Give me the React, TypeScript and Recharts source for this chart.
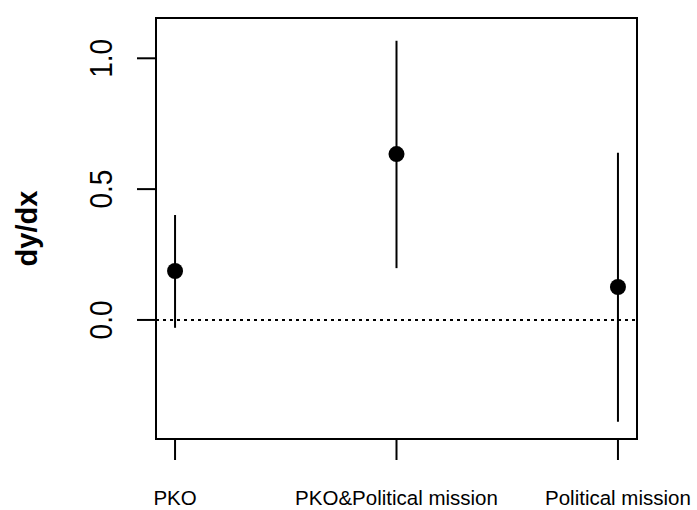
import { ComposedChart, ErrorBar, ReferenceArea, ReferenceLine, Scatter, XAxis, YAxis } from "recharts";

const categories = ["PKO", "PKO&Political mission", "Political mission"];
const estimates = [0.187, 0.634, 0.126];
const lower = [-0.03, 0.198, -0.389];
const upper = [0.401, 1.067, 0.639];
const yTicks = [0, 0.5, 1.0];

const X_DOMAIN: [number, number] = [0.914, 3.086];
const Y_DOMAIN: [number, number] = [-0.455, 1.154];

const data = categories.map((name, i) => ({
  x: i + 1,
  name,
  y: estimates[i],
  err: [estimates[i] - lower[i], upper[i] - estimates[i]],
}));

function YTick(props: any) {
  const { x, y, payload } = props;
  return (
    <text
      transform={`translate(${x},${y}) rotate(-90) scale(1,1.1)`}
      textAnchor="middle"
      fontSize={28}
      fill="#000"
    >
      {payload.value.toFixed(1)}
    </text>
  );
}

function YLabel(props: any) {
  const vb = props.viewBox;
  const cy = vb.y + vb.height / 2;
  return (
    <text
      transform={`translate(37,${cy}) rotate(-90)`}
      textAnchor="middle"
      fontSize={29}
      fontWeight="bold"
      fill="#000"
    >
      dy/dx
    </text>
  );
}

const dot = (p: any) => <circle cx={p.cx} cy={p.cy} r={8} fill="#000" />;

export default function App() {
  return (
    <div
      style={{
        position: "absolute",
        left: 0,
        top: 0,
        background: "#fff",
        fontFamily: "'Liberation Sans', Arial, sans-serif",
      }}
    >
      <ComposedChart width={697} height={510} data={data} margin={{ top: 18, right: 60, bottom: 41, left: 0 }}>
        <XAxis
          type="number"
          dataKey="x"
          domain={X_DOMAIN}
          ticks={[1, 2, 3]}
          tickFormatter={(v: number) => categories[v - 1]}
          axisLine={false}
          height={30}
          tickSize={21}
          tickMargin={30}
          tickLine={{ stroke: "#000", strokeWidth: 2 }}
          tick={{ fill: "#000", fontSize: 20.5 }}
          interval={0}
          allowDataOverflow
        />
        <YAxis
          type="number"
          domain={Y_DOMAIN}
          ticks={yTicks}
          width={156}
          axisLine={false}
          tickSize={19}
          tickMargin={25}
          tickLine={{ stroke: "#000", strokeWidth: 2 }}
          tick={<YTick />}
          label={{ content: (p: any) => <YLabel {...p} /> }}
          allowDataOverflow
        />
        <ReferenceLine y={0} stroke="#000" strokeWidth={2} strokeDasharray="3 4" />
        <ReferenceArea
          x1={X_DOMAIN[0]}
          x2={X_DOMAIN[1]}
          y1={Y_DOMAIN[0]}
          y2={Y_DOMAIN[1]}
          fill="none"
          fillOpacity={0}
          stroke="#000"
          strokeWidth={2}
          strokeOpacity={1}
        />
        <Scatter dataKey="y" fill="#000" shape={dot} isAnimationActive={false}>
          <ErrorBar dataKey="err" direction="y" width={0} stroke="#000" strokeWidth={2} isAnimationActive={false} />
        </Scatter>
      </ComposedChart>
    </div>
  );
}
